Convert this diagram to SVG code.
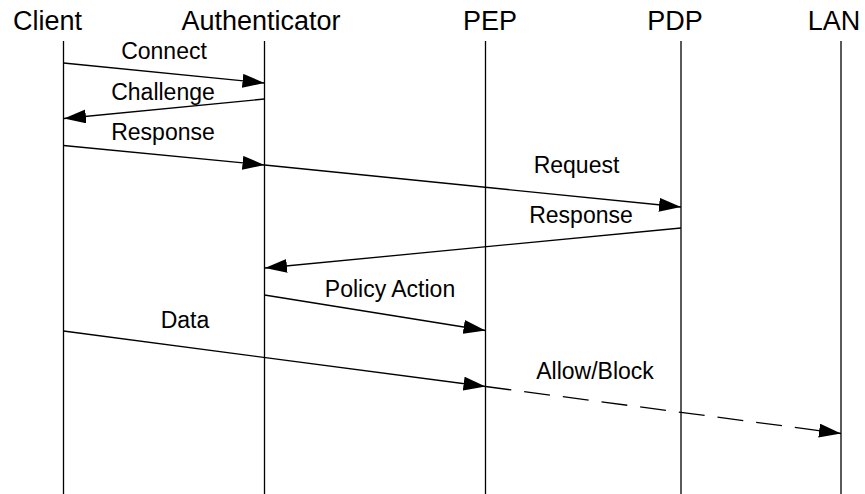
<svg xmlns="http://www.w3.org/2000/svg" width="865" height="494" viewBox="0 0 865 494">
<style>
.hdr{font-family:"Liberation Sans",Arial,sans-serif;font-size:27px;fill:#000;text-anchor:middle}
.lbl{font-family:"Liberation Sans",Arial,sans-serif;font-size:23px;fill:#000;text-anchor:middle}
.life{stroke:#000;stroke-width:1.3;fill:none}
.msg{stroke:#000;stroke-width:1.3;fill:none;marker-end:url(#ah)}
.dash{stroke-dasharray:26 13}
</style>
<defs>
<marker id="ah" markerUnits="userSpaceOnUse" markerWidth="23" markerHeight="15" refX="22" refY="7" orient="auto">
<path d="M0,0 L22,7 L0,14 Z" fill="#000"/>
</marker>
</defs>
<g id="client">
<text class="hdr" x="47.5" y="30">Client</text>
<line class="life" x1="63.5" y1="41" x2="63.5" y2="494"/>
</g>
<g id="authenticator">
<text class="hdr" x="261" y="30">Authenticator</text>
<line class="life" x1="264.5" y1="41" x2="264.5" y2="494"/>
</g>
<g id="pep">
<text class="hdr" x="490" y="30">PEP</text>
<line class="life" x1="485.5" y1="41" x2="485.5" y2="494"/>
</g>
<g id="pdp">
<text class="hdr" x="675" y="30">PDP</text>
<line class="life" x1="681" y1="41" x2="681" y2="494"/>
</g>
<g id="lan">
<text class="hdr" x="834" y="30">LAN</text>
<line class="life" x1="841" y1="41" x2="841" y2="494"/>
</g>
<g id="connectors">
<line class="msg" x1="63.5" y1="63" x2="264.5" y2="83"/>
<text class="lbl" x="164" y="59">Connect</text>
<line class="msg" x1="264.5" y1="99" x2="64" y2="118.5"/>
<text class="lbl" x="163" y="100">Challenge</text>
<line class="msg" x1="63.5" y1="145.5" x2="264.5" y2="165"/>
<text class="lbl" x="163" y="140">Response</text>
<line class="msg" x1="264.5" y1="165" x2="681" y2="207"/>
<text class="lbl" x="576.5" y="173">Request</text>
<line class="msg" x1="681" y1="228" x2="265" y2="268"/>
<text class="lbl" x="581" y="223">Response</text>
<line class="msg" x1="264.5" y1="295" x2="485.5" y2="330.5"/>
<text class="lbl" x="390" y="297">Policy Action</text>
<line class="msg" x1="63.5" y1="331" x2="485.5" y2="386.5"/>
<text class="lbl" x="185" y="328">Data</text>
<line class="msg dash" x1="485.5" y1="386.5" x2="841" y2="433.5"/>
<text class="lbl" x="595" y="379">Allow/Block</text>
</g>
</svg>
